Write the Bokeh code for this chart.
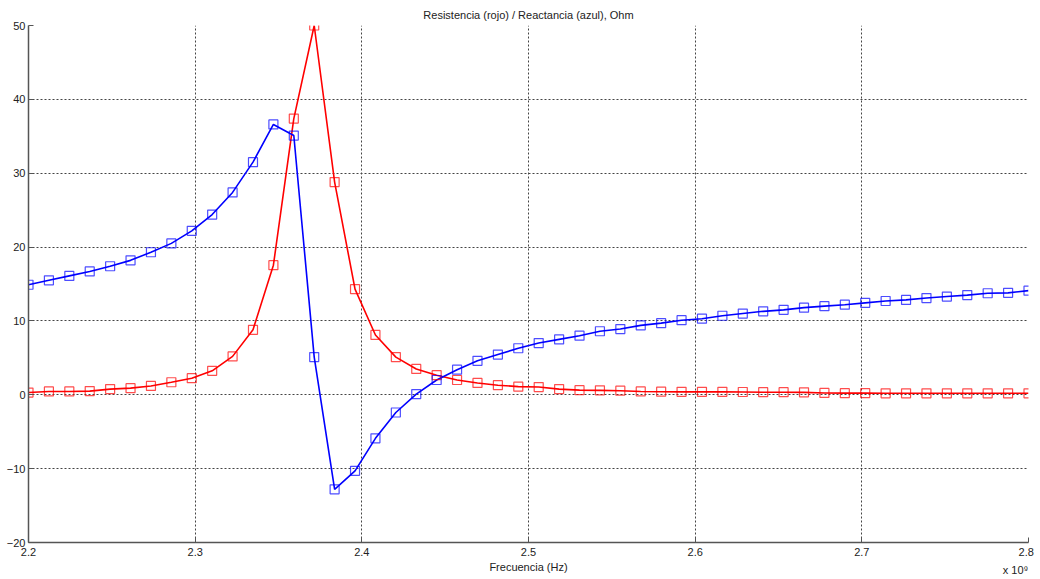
import numpy as np
from bokeh.plotting import figure
from bokeh.models import ColumnDataSource, Range1d, FixedTicker, CustomJSTickFormatter
from bokeh.embed import file_html
from bokeh.resources import INLINE

# Frequency points (Hz)
freq_hz = [2.2e9 + i * (0.6e9 / 49) for i in range(50)]

resistencia = [0.3, 0.45, 0.45, 0.5, 0.77, 0.9, 1.2, 1.7, 2.25, 3.25,
               5.2, 8.8, 17.55, 37.4, 50.0, 28.8, 14.3, 8.1, 5.1, 3.5,
               2.65, 2.0, 1.6, 1.3, 1.1, 1.05, 0.77, 0.63, 0.6, 0.55,
               0.45, 0.42, 0.4, 0.4, 0.4, 0.38, 0.35, 0.35, 0.33, 0.25,
               0.22, 0.22, 0.2, 0.2, 0.2, 0.2, 0.2, 0.2, 0.2, 0.2]

reactancia = [14.9, 15.5, 16.1, 16.7, 17.4, 18.2, 19.3, 20.5, 22.2, 24.4,
              27.4, 31.5, 36.6, 35.1, 5.1, -12.8, -10.3, -5.9, -2.4, 0.1,
              2.0, 3.4, 4.6, 5.45, 6.3, 7.0, 7.5, 8.0, 8.6, 8.9,
              9.4, 9.7, 10.1, 10.3, 10.7, 11.0, 11.3, 11.5, 11.8, 12.0,
              12.2, 12.45, 12.7, 12.85, 13.1, 13.3, 13.5, 13.75, 13.8, 14.1]

x_ticks = [2.2e9, 2.3e9, 2.4e9, 2.5e9, 2.6e9, 2.7e9, 2.8e9]
y_ticks = [-20, -10, 0, 10, 20, 30, 40, 50]

src = ColumnDataSource(dict(f=freq_hz, r=resistencia, x=reactancia))

FONT = "Liberation Sans"

p = figure(frame_width=1000, frame_height=517, output_backend="svg", toolbar_location=None,
           x_range=Range1d(2.2e9, 2.8e9), y_range=Range1d(-20, 50),
           min_border_left=28, min_border_right=12, min_border_top=25, min_border_bottom=0)

p.title.text = "Resistencia (rojo) / Reactancia (azul), Ohm"
p.title.align = "center"
p.title.text_font = FONT
p.title.text_font_size = "11px"
p.title.text_font_style = "normal"
p.title.text_color = "#222222"
p.title.standoff = 10

p.outline_line_color = None
p.background_fill_color = "white"
p.border_fill_color = "white"

for ax in (p.xaxis[0], p.yaxis[0]):
    ax.axis_line_color = "#555555"
    ax.axis_line_width = 1.5
    ax.major_tick_line_color = "#555555"
    ax.major_tick_in = 5
    ax.major_tick_out = 0
    ax.minor_tick_line_color = None
    ax.major_label_text_font = FONT
    ax.major_label_text_font_size = "11px"
    ax.major_label_text_color = "#222222"

p.xaxis.ticker = FixedTicker(ticks=x_ticks)
p.yaxis.ticker = FixedTicker(ticks=y_ticks)
p.xaxis.formatter = CustomJSTickFormatter(
    code="var s = (tick/1e9).toFixed(1); if (Math.abs(tick - 2.8e9) < 1e6) { s = '\u00a0\u00a0\u00a0' + s + '\\nx 10\u2079\u00a0\u00a0\u00a0\u00a0'; } return s;")
p.xaxis.major_label_text_line_height = 1.5
p.xaxis.major_label_standoff = 3
p.yaxis.major_label_standoff = 3
p.xaxis.axis_label = "Frecuencia (Hz)"
p.xaxis.axis_label_text_font = FONT
p.xaxis.axis_label_text_font_size = "11px"
p.xaxis.axis_label_text_font_style = "normal"
p.xaxis.axis_label_text_color = "#222222"
p.xaxis.axis_label_standoff = -18

for g in (p.xgrid[0], p.ygrid[0]):
    g.grid_line_color = "#444444"
    g.grid_line_dash = "2 2"
    g.grid_line_width = 1

# lines
p.line("f", "r", source=src, line_color="#ff0000", line_width=1.6)
p.line("f", "x", source=src, line_color="#0000ff", line_width=1.6)
p.scatter("f", "r", source=src, marker="square", size=9, fill_color=None,
          line_color="#ff0000", line_alpha=0.7, line_width=1.2)
p.scatter("f", "x", source=src, marker="square", size=9, fill_color=None,
          line_color="#0000ff", line_alpha=0.7, line_width=1.2)

open("out.html", "w").write(file_html(p, INLINE))
